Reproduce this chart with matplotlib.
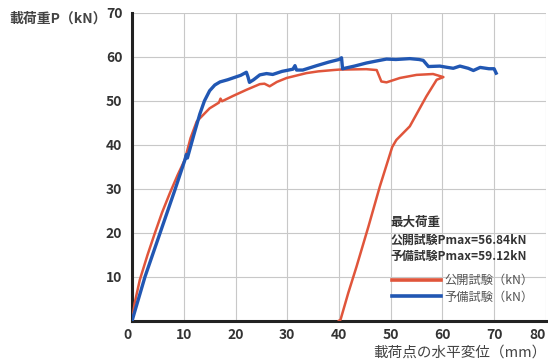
import matplotlib
matplotlib.use("Agg")
import matplotlib.pyplot as plt

plt.rcParams['font.family'] = ['Noto Sans CJK JP', 'DejaVu Sans']

# 公開試験 (red): load path, then unloading back to 40 mm
koukai_x = [0, 0.5, 1.5, 3, 4.4, 5.8, 7.3, 8.8, 10.2, 11.3, 12.5, 15, 16.8, 17.1, 17.4,
            19.5, 22.1, 24.7, 25.6, 26.6, 28, 29.9, 33.7, 36, 38.9, 40, 45.3, 47.3,
            48.2, 49.2, 51.8, 55, 58.2, 60.2, 58.9, 56.9, 53.7, 51.1, 50.3, 47.9,
            45.7, 43.4, 41.8, 40.3, 40.0]
koukai_y = [0, 4, 9.3, 15, 19.9, 24.6, 29, 33.1, 36.6, 41.5, 45.3, 48.3, 49.6, 50.5, 49.9,
            51.1, 52.5, 53.8, 53.9, 53.3, 54.3, 55.2, 56.3, 56.7, 57.0, 57.1, 57.2, 57.0,
            54.4, 54.2, 55.2, 55.9, 56.1, 55.4, 54.8, 51.0, 44.2, 41.1, 39.5, 30.5,
            21.4, 12.3, 6.3, 0.2, 0]

# 予備試験 (blue)
yobi_x = [0, 2.5, 5.4, 8.3, 10.2, 10.5, 10.7, 12, 13.1, 14, 15, 16, 17, 18.5, 19.5, 21,
          22.1, 22.4, 22.7, 23.5, 24.7, 26, 27.2, 29, 31.1, 31.5, 31.8, 33, 35.7, 38,
          40, 40.5, 40.7, 43, 45.3, 47, 49.2, 51, 53.7, 55.5, 56.3, 57.3, 59.5, 61,
          62.1, 63.4, 65, 66, 67.3, 69, 70, 70.4]
yobi_y = [0, 10, 19.9, 29.8, 36.5, 37.8, 37.0, 42.5, 47, 50, 52.3, 53.6, 54.3, 54.8, 55.2,
          55.8, 56.5, 55.5, 54.2, 54.8, 55.9, 56.2, 56.0, 56.7, 57.2, 58.0, 57.0, 57.0,
          58.0, 58.8, 59.4, 59.8, 57.3, 57.9, 58.6, 59.0, 59.5, 59.4, 59.6, 59.4, 59.2,
          57.8, 57.9, 57.6, 57.4, 57.9, 57.4, 56.9, 57.6, 57.3, 57.3, 56.3]

series_labels = ['公開試験（kN）', '予備試験（kN）']
x_ticks = [0, 10, 20, 30, 40, 50, 60, 70, 80]
y_ticks = [10, 20, 30, 40, 50, 60, 70]
pmax_lines = ['最大荷重', '公開試験Pmax=56.84kN', '予備試験Pmax=59.12kN']

red = '#e0553b'
blue = '#2157b3'
txt = '#333333'

fig = plt.figure(figsize=(5.48, 3.63), dpi=100)
ax = fig.add_axes([0.241, 0.1165, 0.755, 0.848])

ax.plot(koukai_x, koukai_y, color=red, lw=1.8, label=series_labels[0],
        solid_joinstyle='round', zorder=3)
ax.plot(yobi_x, yobi_y, color=blue, lw=2.4, label=series_labels[1],
        solid_joinstyle='round', zorder=4)

ax.set_xlim(0, 80)
ax.set_ylim(0, 70)
ax.set_xticks(x_ticks)
ax.set_yticks(y_ticks)
ax.grid(True, color='#c8c8c8', lw=0.8)
ax.tick_params(length=0, labelsize=10, labelcolor=txt)
ax.tick_params(axis='y', pad=7)
ax.tick_params(axis='x', pad=5)
for lab in ax.get_xticklabels() + ax.get_yticklabels():
    lab.set_fontweight('bold')
xl = ax.get_xticklabels()
xl[0].set_ha('right')
xl[0].set_x(-1.5)
xl[-1].set_ha('right')

for s in ['top', 'right']:
    ax.spines[s].set_visible(False)
for s in ['left', 'bottom']:
    ax.spines[s].set_linewidth(2.2)
    ax.spines[s].set_color('#222222')

fig.text(0.018, 0.95, '載荷重P（kN）', fontsize=10, color='#444444',
         fontweight='bold', ha='left', va='center')
fig.text(0.998, 0.028, '載荷点の水平変位（mm）', fontsize=10.5, color='#444444',
         ha='right', va='center')

fig.text(0.712, 1 - 222 / 363, pmax_lines[0], fontsize=9, color=txt,
         fontweight='bold', ha='left', va='center')
fig.text(0.712, 1 - 240 / 363, pmax_lines[1], fontsize=8.6, color=txt,
         fontweight='bold', ha='left', va='center')
fig.text(0.712, 1 - 256 / 363, pmax_lines[2], fontsize=8.6, color=txt,
         fontweight='bold', ha='left', va='center')

leg = ax.legend(loc='upper left', bbox_to_anchor=(0.716, 1 - 274 / 363),
                bbox_transform=fig.transFigure, frameon=False, fontsize=8.8,
                handlelength=4.0, handletextpad=0.25, labelspacing=0.3,
                borderpad=0, borderaxespad=0)
for t in leg.get_texts():
    t.set_color('#555555')
for h in leg.get_lines():
    h.set_linewidth(2.6)

fig.savefig('out.png', dpi=100)
